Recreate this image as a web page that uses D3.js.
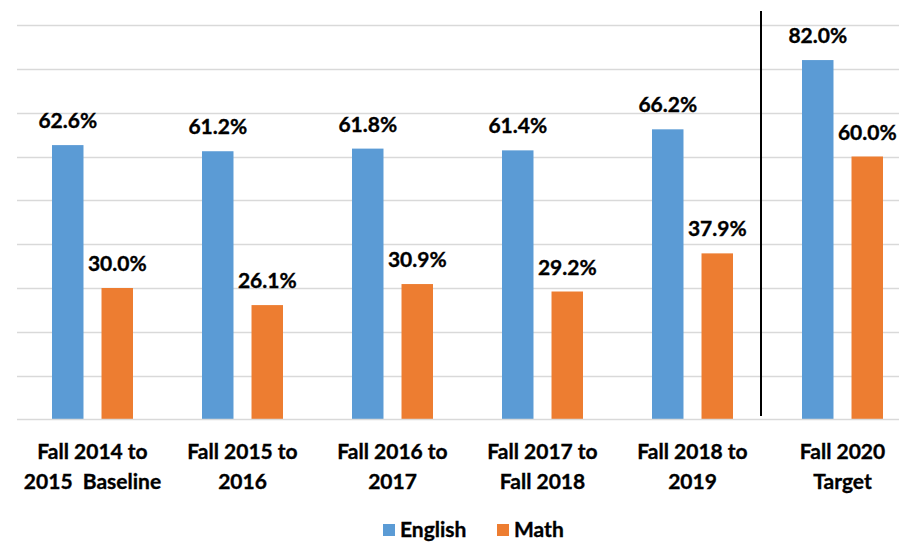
<!DOCTYPE html>
<html>
<head>
<meta charset="utf-8">
<script src="https://cdn.jsdelivr.net/npm/d3@7"></script>
<style>
  body { margin: 0; background: #fff; }
  text { font-family: Lato, "Open Sans", sans-serif; font-weight: bold; fill: #000; stroke: #000; stroke-width: 0.35px; }
</style>
</head>
<body>
<svg id="chart"></svg>
<script>
// chart data
const categories = [
  ["Fall 2014 to", "2015  Baseline"],
  ["Fall 2015 to", "2016"],
  ["Fall 2016 to", "2017"],
  ["Fall 2017 to", "Fall 2018"],
  ["Fall 2018 to", "2019"],
  ["Fall 2020", "Target"]
]
const seriesNames = ["English", "Math"]
const english = [62.6, 61.2, 61.8, 61.4, 66.2, 82.0]
const math = [30.0, 26.1, 30.9, 29.2, 37.9, 60.0]
const yTicks = [10, 20, 30, 40, 50, 60, 70, 80, 90]

const width = 899, height = 543
const colors = { English: "#5B9BD5", Math: "#ED7D31" }

const svg = d3.select("#chart")
  .attr("width", width)
  .attr("height", height)

const keys = categories.map(c => c.join(" "))
const rows = keys.map((k, i) => ({ key: k, lines: categories[i], English: english[i], Math: math[i] }))

const x0 = d3.scaleBand().domain(keys).range([17.5, 917.5]).paddingInner(0.46).paddingOuter(0.23)
const x1 = d3.scaleBand().domain(seriesNames).range([0, x0.bandwidth()]).paddingInner(0.364)
const y = d3.scaleLinear().domain([0, 90]).range([419.5, 25])

// gridlines
svg.append("g").selectAll("line")
  .data(yTicks)
  .enter().append("line")
  .attr("x1", 17).attr("x2", width)
  .attr("y1", d => Math.round(y(d)) + 0.5).attr("y2", d => Math.round(y(d)) + 0.5)
  .attr("stroke", "#d9d9d9").attr("stroke-width", 1.5)

// bars
const groups = svg.append("g").selectAll("g")
  .data(rows)
  .enter().append("g")
  .attr("transform", d => `translate(${x0(d.key)},0)`)

groups.selectAll("rect")
  .data(d => seriesNames.map(s => ({ s, v: d[s] })))
  .enter().append("rect")
  .attr("x", d => x1(d.s))
  .attr("width", x1.bandwidth())
  .attr("y", d => y(d.v))
  .attr("height", d => y(0) - y(d.v))
  .attr("fill", d => colors[d.s])

groups.selectAll("text.val")
  .data(d => seriesNames.map(s => ({ s, v: d[s] })))
  .enter().append("text")
  .attr("class", "val")
  .attr("x", d => x1(d.s) + x1.bandwidth() / 2)
  .attr("y", d => y(d.v) - 17)
  .attr("text-anchor", "middle")
  .style("font-size", "21px")
  .text(d => d.v.toFixed(1) + "%")

// baseline
svg.append("line")
  .attr("x1", 17).attr("x2", width)
  .attr("y1", y(0)).attr("y2", y(0))
  .attr("stroke", "#d9d9d9").attr("stroke-width", 1.5)

// divider before the target group
const divX = x0(keys[5]) - x0.step() * x0.paddingOuter() - 6.5
svg.append("line")
  .attr("x1", divX).attr("x2", divX)
  .attr("y1", 11).attr("y2", 416)
  .attr("stroke", "#000").attr("stroke-width", 2)

// category labels
const cat = svg.append("g").selectAll("text")
  .data(rows)
  .enter().append("text")
  .attr("text-anchor", "middle")
  .style("font-size", "21px")
  .style("white-space", "pre")
cat.selectAll("tspan")
  .data(d => d.lines.map((l, i) => ({ l, i, cx: x0(d.key) + x0.bandwidth() / 2 })))
  .enter().append("tspan")
  .attr("x", d => d.cx)
  .attr("y", d => 459 + d.i * 30)
  .text(d => d.l)

// legend
const legendX = [383, 497]
const legend = svg.append("g").selectAll("g")
  .data(seriesNames)
  .enter().append("g")
  .attr("transform", (d, i) => `translate(${legendX[i]},524)`)
legend.append("rect")
  .attr("width", 12).attr("height", 12)
  .attr("fill", d => colors[d])
legend.append("text")
  .attr("x", 17).attr("y", 13)
  .style("font-size", "21px")
  .text(d => d)
</script>
</body>
</html>
